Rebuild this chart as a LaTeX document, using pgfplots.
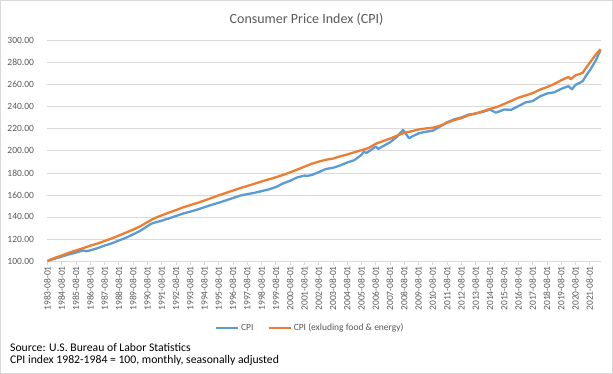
\documentclass[border=0pt]{standalone}
\usepackage{fontspec}
\setmainfont{Carlito}
\usepackage{pgfplots}
\pgfplotsset{compat=1.18}
\usepackage{pgfplotstable}
\definecolor{cpiblue}{HTML}{5B9BD5}
\definecolor{cpiorange}{HTML}{ED7D31}
\definecolor{txtgray}{HTML}{595959}
\definecolor{gridgray}{HTML}{D9D9D9}

\pgfplotstableread{
y m v
1983 8 100.0
1984 2 102.1
1984 8 104.0
1985 2 106.0
1985 8 107.7
1986 2 109.6
1986 5 108.9
1986 8 109.7
1987 2 111.6
1987 8 114.0
1988 2 116.0
1988 8 118.6
1989 2 121.1
1989 8 124.2
1990 2 127.4
1990 8 131.6
1990 11 133.7
1991 2 134.8
1991 8 136.6
1992 2 138.7
1992 8 140.8
1993 2 143.1
1993 8 144.8
1994 2 146.7
1994 8 148.9
1995 2 151.0
1995 8 152.9
1996 2 155.0
1996 8 157.2
1997 2 159.4
1997 8 160.7
1998 2 161.9
1998 8 163.4
1999 2 165.0
1999 8 167.1
2000 2 170.4
2000 8 172.8
2001 2 175.9
2001 8 177.5
2001 11 177.4
2002 2 178.0
2002 8 180.6
2003 2 183.5
2003 8 184.6
2004 2 186.7
2004 8 189.4
2005 2 191.6
2005 8 196.4
2005 10 199.2
2005 12 198.1
2006 2 199.4
2006 8 203.9
2006 10 201.8
2007 2 204.2
2007 8 207.7
2008 2 212.9
2008 7 219.0
2008 12 211.4
2009 2 212.7
2009 8 215.9
2010 2 217.3
2010 8 218.3
2011 2 222.0
2011 8 226.0
2012 2 228.6
2012 8 230.3
2013 2 232.9
2013 8 233.9
2014 2 235.4
2014 8 237.4
2015 1 234.7
2015 8 237.5
2016 2 237.3
2016 8 240.6
2017 2 244.0
2017 8 245.2
2018 2 249.4
2018 8 252.1
2019 2 253.1
2019 8 256.3
2020 2 258.7
2020 5 255.9
2020 8 259.9
2021 2 263.2
2021 5 268.5
2021 8 273.1
2022 1 281.9
2022 5 291.5
}\cpi

\pgfplotstableread{
y m v
1983 8 100.0
1984 2 102.8
1984 8 105.0
1985 2 107.5
1985 8 109.6
1986 2 111.7
1986 8 113.9
1987 2 115.8
1987 8 118.2
1988 2 120.5
1988 8 123.1
1989 2 125.8
1989 8 128.5
1990 2 131.5
1990 8 135.3
1991 2 138.9
1991 8 141.4
1992 2 143.9
1992 8 146.2
1993 2 148.7
1993 8 150.7
1994 2 152.7
1994 8 154.9
1995 2 157.3
1995 8 159.6
1996 2 161.8
1996 8 164.0
1997 2 166.2
1997 8 168.1
1998 2 170.1
1998 8 172.2
1999 2 174.1
1999 8 176.0
2000 2 178.1
2000 8 180.5
2001 2 183.0
2001 8 185.6
2002 2 188.2
2002 8 190.2
2003 2 191.9
2003 8 193.0
2004 2 195.0
2004 8 196.7
2005 2 198.7
2005 8 200.6
2006 2 202.6
2006 8 206.4
2007 2 208.8
2007 8 211.1
2008 2 213.8
2008 8 216.4
2009 2 217.7
2009 8 219.4
2010 2 220.3
2010 8 221.0
2011 2 222.8
2011 8 225.5
2012 2 228.0
2012 8 229.6
2013 2 232.3
2013 8 233.9
2014 2 235.9
2014 8 238.1
2015 2 239.8
2015 8 242.6
2016 2 245.4
2016 8 248.3
2017 2 250.3
2017 8 252.4
2018 2 255.5
2018 8 257.9
2019 2 260.6
2019 8 264.1
2020 2 267.1
2020 4 265.1
2020 8 268.5
2021 2 270.8
2021 5 275.6
2021 8 280.0
2022 1 287.4
2022 5 292.3
}\core

\begin{document}
\begin{tikzpicture}
\useasboundingbox (0pt,0pt) rectangle (613pt,374pt);
\draw[gridgray] (0.5pt,0.5pt) rectangle (612.5pt,373.5pt);
\node[font=\fontsize{14}{16}\selectfont, text=txtgray] at (306.5pt,355pt) {Consumer Price Index (CPI)};
\begin{axis}[
  at={(47.5pt,113pt)}, anchor=south west,
  scale only axis, width=553pt, height=220.3pt,
  xmin=1983, xmax=2021.75, ymin=100, ymax=300,
  ytick={100,120,...,300},
  xtick={1983,1984,...,2021},
  xticklabel={\pgfmathtruncatemacro\yr{round(\tick)}\yr-08-01},
  xticklabel style={rotate=90, anchor=east, font=\fontsize{9.5}{10}\selectfont, text=txtgray, inner sep=1pt},
  yticklabel style={font=\fontsize{9.5}{10}\selectfont, text=txtgray, xshift=-6pt},
  /pgf/number format/.cd, fixed, fixed zerofill, precision=2, 1000 sep={}, assume math mode=true,
  /pgfplots/.cd,
  axis lines*=left,
  y axis line style={draw=none},
  x axis line style={gridgray, line width=0.75pt},
  ytick style={draw=none},
  xtick style={gridgray, line width=0.75pt},
  tick align=outside, major tick length=4pt,
  ymajorgrids, grid style={gridgray, line width=0.75pt},
  clip=false,
  legend columns=2,
  legend style={at={(0.475,-0.303)}, anchor=center, draw=none, fill=none,
    font=\fontsize{9.5}{10}\selectfont, text=txtgray,
    /tikz/every even column/.append style={column sep=12pt}},
  legend image code/.code={\draw[#1] (0pt,0pt) -- (22pt,0pt);},
]
\addplot[cpiblue, line width=2.3pt, line join=round] table[x expr=\thisrow{y}+(\thisrow{m}-8)/12, y=v] {\cpi};
\addlegendentry{CPI}
\addplot[cpiorange, line width=2.3pt, line join=round] table[x expr=\thisrow{y}+(\thisrow{m}-8)/12, y=v] {\core};
\addlegendentry{CPI (exluding food \& energy)}
\end{axis}
\node[anchor=west, font=\fontsize{11.7}{13}\selectfont, inner sep=0pt] at (10pt,27pt) {Source: U.S. Bureau of Labor Statistics};
\node[anchor=west, font=\fontsize{11.7}{13}\selectfont, inner sep=0pt] at (10pt,13.5pt) {CPI index 1982-1984 = 100, monthly, seasonally adjusted};
\end{tikzpicture}
\end{document}
